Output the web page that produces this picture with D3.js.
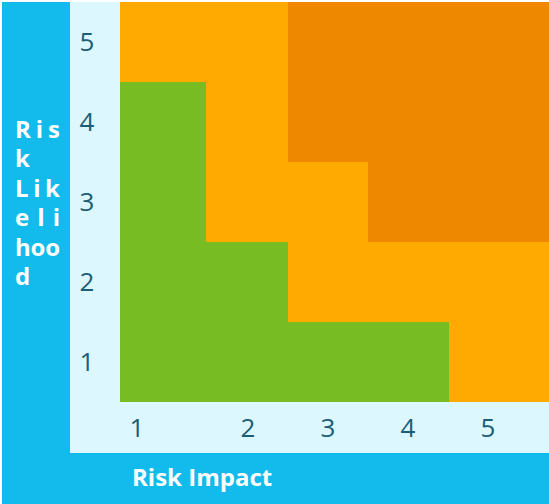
<!DOCTYPE html>
<html>
<head>
<meta charset="utf-8">
<script src="https://cdn.jsdelivr.net/npm/d3@7"></script>
<style>
  html, body { margin: 0; padding: 0; background: #ffffff; }
  svg { display: block; }
</style>
</head>
<body>
<svg id="chart" width="549" height="504"></svg>
<script>
// ---- data ----
const impactLevels = [1, 2, 3, 4, 5];          // x categories
const likelihoodLevels = [1, 2, 3, 4, 5];      // y categories
// risk rating per likelihood row (index 0 = likelihood 1), per impact column
const ratingRow1 = ["low", "low", "low", "low", "medium"];
const ratingRow2 = ["low", "low", "medium", "medium", "medium"];
const ratingRow3 = ["low", "medium", "medium", "high", "high"];
const ratingRow4 = ["low", "medium", "high", "high", "high"];
const ratingRow5 = ["medium", "medium", "high", "high", "high"];
const ratingRows = [ratingRow1, ratingRow2, ratingRow3, ratingRow4, ratingRow5];
const xTickLabels = ["1", "2", "3", "4", "5"];
const yTickLabels = ["1", "2", "3", "4", "5"];
const xTitle = "Risk Impact";
const yTitleLines = ["Ris", "k", "Lik", "eli", "hoo", "d"]; // "Risk Likelihood" wrapped in a narrow box

const ratingColors = { low: "#78bc23", medium: "#ffaa00", high: "#ee8800" };

const cells = [];
likelihoodLevels.forEach((l, i) => {
  impactLevels.forEach((m, j) => {
    cells.push({ impact: m, likelihood: l, rating: ratingRows[i][j] });
  });
});

// ---- layout ----
const svg = d3.select("#chart");
const W = 549, H = 504;

// outer blue frame and inner light panel
svg.append("rect").attr("x", 2).attr("y", 2).attr("width", W - 2).attr("height", H - 2).attr("fill", "#12bbec");
svg.append("rect").attr("x", 70).attr("y", 2).attr("width", W - 70).attr("height", 451).attr("fill", "#ddf7fe");

// scales: cell edges (piecewise, the first and last columns are wider)
const xEdge = d3.scaleLinear().domain([0.5, 1.5, 2.5, 3.5, 4.5, 5.5]).range([120, 206, 288, 368, 449, 549]);
const yEdge = d3.scaleLinear().domain([0.5, 5.5]).range([402, 2]);
// tick label anchors
const xLabel = d3.scaleLinear().domain([1, 2, 5]).range([137, 248, 488]);

const colorScale = d3.scaleOrdinal().domain(Object.keys(ratingColors)).range(Object.values(ratingColors));

svg.append("g").selectAll("rect")
  .data(cells)
  .join("rect")
  .attr("x", d => xEdge(d.impact - 0.5))
  .attr("y", d => yEdge(d.likelihood + 0.5))
  .attr("width", d => xEdge(d.impact + 0.5) - xEdge(d.impact - 0.5))
  .attr("height", d => yEdge(d.likelihood - 0.5) - yEdge(d.likelihood + 0.5))
  .attr("fill", d => colorScale(d.rating))
  .attr("shape-rendering", "crispEdges");

const font = "'Open Sans', 'Noto Sans', sans-serif";
const tickColor = "#1a5e77";

// y tick labels
svg.append("g").selectAll("text")
  .data(likelihoodLevels)
  .join("text")
  .attr("x", 87)
  .attr("y", d => yEdge(d))
  .attr("dy", "0.36em")
  .attr("text-anchor", "middle")
  .attr("font-family", font)
  .attr("font-size", 26)
  .attr("fill", tickColor)
  .text((d, i) => yTickLabels[i]);

// x tick labels
svg.append("g").selectAll("text")
  .data(impactLevels)
  .join("text")
  .attr("x", d => xLabel(d))
  .attr("y", 437)
  .attr("text-anchor", "middle")
  .attr("font-family", font)
  .attr("font-size", 26)
  .attr("fill", tickColor)
  .text((d, i) => xTickLabels[i]);

// x title
svg.append("text")
  .attr("x", 132)
  .attr("y", 486)
  .attr("font-family", font)
  .attr("font-weight", "bold")
  .attr("font-size", 24)
  .attr("fill", "#ffffff")
  .text(xTitle);

// y title (wrapped, justified lines)
const yTitle = svg.append("text")
  .attr("font-family", font)
  .attr("font-weight", "bold")
  .attr("font-size", 24)
  .attr("fill", "#ffffff");
yTitleLines.forEach((line, i) => {
  const t = yTitle.append("tspan")
    .attr("x", 15)
    .attr("y", 138 + i * 29.4)
    .text(line);
  if (line.length > 1) t.attr("textLength", 45).attr("lengthAdjust", "spacing");
});
</script>
</body>
</html>
